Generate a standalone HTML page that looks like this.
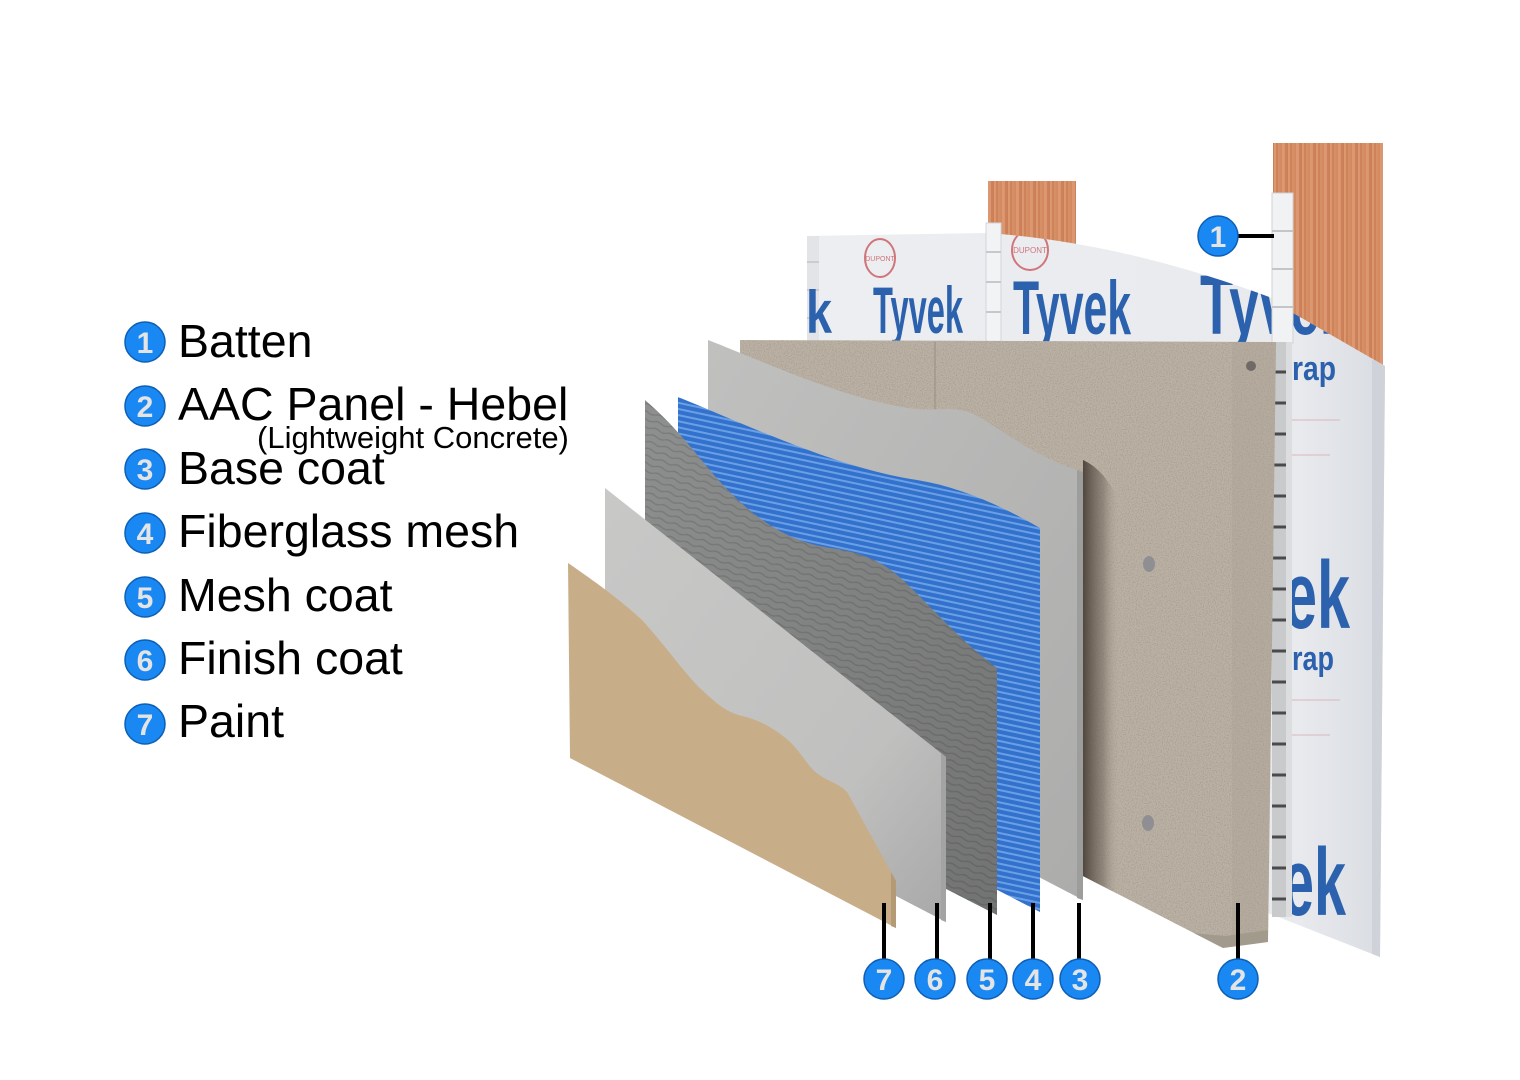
<!DOCTYPE html>
<html>
<head>
<meta charset="utf-8">
<style>
  html,body{margin:0;padding:0;background:#fff;}
  body{width:1520px;height:1080px;overflow:hidden;}
  svg{display:block;}
  .lg{font-family:"Liberation Sans",Arial,sans-serif;font-size:46.5px;fill:#000;}
  .num{font-family:"Liberation Sans",Arial,sans-serif;font-weight:bold;font-size:30px;fill:#e4e4e4;text-anchor:middle;}
  .ty{font-family:"Liberation Sans",Arial,sans-serif;font-weight:bold;fill:#2c62ad;}
</style>
</head>
<body>
<svg width="1520" height="1080" viewBox="0 0 1520 1080" xmlns="http://www.w3.org/2000/svg">
  <defs>
    <linearGradient id="wood" x1="0" y1="0" x2="1" y2="0">
      <stop offset="0" stop-color="#dc9a72"/>
      <stop offset="0.5" stop-color="#d48a60"/>
      <stop offset="1" stop-color="#cc7d56"/>
    </linearGradient>
    <pattern id="woodgrain" width="14" height="20" patternUnits="userSpaceOnUse">
      <rect width="14" height="20" fill="url(#wood)"/>
      <rect x="2" width="2" height="20" fill="#c27048" opacity="0.45"/>
      <rect x="8" width="3" height="20" fill="#e8ae8a" opacity="0.45"/>
    </pattern>
    <linearGradient id="tyvekG" x1="0" y1="0" x2="1" y2="0">
      <stop offset="0" stop-color="#eceef1"/>
      <stop offset="0.85" stop-color="#e8eaee"/>
      <stop offset="1" stop-color="#d9dce1"/>
    </linearGradient>
    <filter id="noise" x="0" y="0" width="100%" height="100%">
      <feTurbulence type="fractalNoise" baseFrequency="0.85" numOctaves="2" seed="4"/>
      <feColorMatrix type="matrix" values="0 0 0 0 0.32  0 0 0 0 0.29  0 0 0 0 0.25  1.9 0 0 0 -0.85"/>
    </filter>
    <clipPath id="concClip">
      <path d="M740,340 L1276,342 L1268,942 L1223,948 L740,700 Z"/>
    </clipPath>
    <clipPath id="tyClip">
      <path d="M807,236 L985,233 L1000,234 Q1130,245 1272,298 L1293,313 L1385,366 L1380,957 L1268,913 L807,700 Z"/>
    </clipPath>
    <linearGradient id="shadow" x1="0" y1="0" x2="1" y2="0">
      <stop offset="0" stop-color="#3e352d" stop-opacity="0.85"/>
      <stop offset="0.55" stop-color="#6b6056" stop-opacity="0.5"/>
      <stop offset="1" stop-color="#b5ab9f" stop-opacity="0"/>
    </linearGradient>
    <linearGradient id="baseG" x1="0" y1="0" x2="1" y2="1">
      <stop offset="0" stop-color="#c0c0bf"/>
      <stop offset="1" stop-color="#acacab"/>
    </linearGradient>
    <pattern id="meshP" width="12" height="6" patternUnits="userSpaceOnUse" patternTransform="rotate(12)">
      <rect width="12" height="6" fill="#3372cc"/>
      <rect y="0" width="12" height="2" fill="#6a9fe6"/>
    </pattern>
    <pattern id="mcP" width="16" height="7" patternUnits="userSpaceOnUse" patternTransform="rotate(18)">
      <rect width="16" height="7" fill="#8e8f8f"/>
      <path d="M0,3 Q4,1 8,3 T16,3" stroke="#7c7d7d" stroke-width="1.4" fill="none"/>
    </pattern>
    <linearGradient id="mcShade" x1="0" y1="0" x2="1" y2="1">
      <stop offset="0" stop-color="#000" stop-opacity="0"/>
      <stop offset="1" stop-color="#000" stop-opacity="0.2"/>
    </linearGradient>
    <linearGradient id="finG" x1="0" y1="0" x2="1" y2="1">
      <stop offset="0" stop-color="#c8c8c7"/>
      <stop offset="0.7" stop-color="#c0c0bf"/>
      <stop offset="1" stop-color="#a8a8a8"/>
    </linearGradient>
  </defs>

  <!-- Battens -->
  <rect x="988" y="181" width="88" height="90" fill="url(#woodgrain)"/>
  <rect x="1273" y="143" width="110" height="240" fill="url(#woodgrain)"/>

  <!-- Tyvek sheet -->
  <path d="M807,236 L985,233 L1000,234 Q1130,245 1272,298 L1293,313 L1385,366 L1380,957 L1268,913 L807,700 Z" fill="url(#tyvekG)"/>
  <g clip-path="url(#tyClip)">
    <rect x="1372" y="360" width="14" height="600" fill="#cfd2d8"/>
    <rect x="807" y="236" width="12" height="110" fill="#e2e4e8"/>
    <line x1="807" y1="262" x2="819" y2="262" stroke="#c9ccd1" stroke-width="2"/>
    <line x1="807" y1="290" x2="819" y2="290" stroke="#c9ccd1" stroke-width="2"/>
    <line x1="807" y1="318" x2="819" y2="318" stroke="#c9ccd1" stroke-width="2"/>
    <ellipse cx="880" cy="258" rx="15" ry="19" fill="none" stroke="#d0757a" stroke-width="2"/>
    <text x="880" y="261" font-family="Liberation Sans, sans-serif" font-size="7" fill="#d0757a" text-anchor="middle">DUPONT</text>
    <ellipse cx="1030" cy="250" rx="18" ry="20" fill="none" stroke="#d0757a" stroke-width="2"/>
    <text x="1030" y="253" font-family="Liberation Sans, sans-serif" font-size="8" fill="#d0757a" text-anchor="middle">DUPONT</text>
    <text class="ty" x="806" y="333" font-size="60" textLength="26" lengthAdjust="spacingAndGlyphs">k</text>
    <text class="ty" x="873" y="333" font-size="66" textLength="90" lengthAdjust="spacingAndGlyphs">Tyvek</text>
    <text class="ty" x="1013" y="334" font-size="76" textLength="118" lengthAdjust="spacingAndGlyphs">Tyvek</text>
    <text class="ty" x="1200" y="334" font-size="84" textLength="150" lengthAdjust="spacingAndGlyphs">Tyvek</text>
    <text class="ty" x="1292" y="380" font-size="34" textLength="44" lengthAdjust="spacingAndGlyphs">rap</text>
    <text class="ty" x="1284" y="628" font-size="96" textLength="66" lengthAdjust="spacingAndGlyphs">ek</text>
    <text class="ty" x="1292" y="670" font-size="34" textLength="42" lengthAdjust="spacingAndGlyphs">rap</text>
    <text class="ty" x="1282" y="915" font-size="96" textLength="64" lengthAdjust="spacingAndGlyphs">ek</text>
    <g stroke="#d8b8bd" stroke-width="1">
      <line x1="1292" y1="420" x2="1340" y2="420"/>
      <line x1="1292" y1="455" x2="1330" y2="455"/>
      <line x1="1292" y1="700" x2="1340" y2="700"/>
      <line x1="1292" y1="735" x2="1330" y2="735"/>
    </g>
  </g>

  <rect x="986" y="223" width="15" height="120" fill="#f2f3f5" stroke="#d4d6da" stroke-width="1"/>
  <g stroke="#c5c8cd" stroke-width="2">
    <line x1="986" y1="252" x2="1001" y2="252"/>
    <line x1="986" y1="282" x2="1001" y2="282"/>
    <line x1="986" y1="312" x2="1001" y2="312"/>
  </g>

  <!-- clip column -->
  <rect x="1272" y="193" width="21" height="150" fill="#f1f2f3" stroke="#d0d2d5" stroke-width="1"/>
  <g stroke="#c3c5c8" stroke-width="2">
    <line x1="1272" y1="231" x2="1293" y2="231"/>
    <line x1="1272" y1="269" x2="1293" y2="269"/>
    <line x1="1272" y1="307" x2="1293" y2="307"/>
  </g>
  <rect x="1272" y="342" width="20" height="575" fill="#c9cacc"/>
  <rect x="1286" y="342" width="6" height="575" fill="#dcdddf"/>
  <g stroke="#4a4a4c" stroke-width="3">
    <line x1="1272" y1="372" x2="1286" y2="372"/>
    <line x1="1272" y1="403" x2="1286" y2="403"/>
    <line x1="1272" y1="434" x2="1286" y2="434"/>
    <line x1="1272" y1="465" x2="1286" y2="465"/>
    <line x1="1272" y1="496" x2="1286" y2="496"/>
    <line x1="1272" y1="527" x2="1286" y2="527"/>
    <line x1="1272" y1="558" x2="1286" y2="558"/>
    <line x1="1272" y1="589" x2="1286" y2="589"/>
    <line x1="1272" y1="620" x2="1286" y2="620"/>
    <line x1="1272" y1="651" x2="1286" y2="651"/>
    <line x1="1272" y1="682" x2="1286" y2="682"/>
    <line x1="1272" y1="713" x2="1286" y2="713"/>
    <line x1="1272" y1="744" x2="1286" y2="744"/>
    <line x1="1272" y1="775" x2="1286" y2="775"/>
    <line x1="1272" y1="806" x2="1286" y2="806"/>
    <line x1="1272" y1="837" x2="1286" y2="837"/>
    <line x1="1272" y1="868" x2="1286" y2="868"/>
    <line x1="1272" y1="899" x2="1286" y2="899"/>
  </g>

  <!-- AAC concrete panel -->
  <path d="M740,340 L1276,342 L1268,942 L1223,948 L740,700 Z" fill="#bbb1a4"/>
  <g clip-path="url(#concClip)">
    <rect x="740" y="340" width="540" height="610" filter="url(#noise)"/>
    <line x1="935" y1="342" x2="935" y2="420" stroke="#a39888" stroke-width="1.5"/>
    <path d="M1083,460 Q1105,470 1118,500 L1120,900 L1083,900 Z" fill="url(#shadow)"/>
    <rect x="1232" y="342" width="44" height="610" fill="#a99f92" opacity="0.3"/>
    <path d="M1180,932 L1223,948 L1268,942 L1268,930 L1225,936 Z" fill="#a39a8e"/>
  </g>
  <circle cx="1251" cy="366" r="5" fill="#6f6a66"/>
  <ellipse cx="1149" cy="564" rx="6" ry="8" fill="#8f8f93"/>
  <ellipse cx="1148" cy="823" rx="6" ry="8" fill="#8f8f93"/>

  <!-- Base coat (3) -->
  <path d="M708,340 C760,360 850,402 917,409 C940,411 955,405 975,415 C1000,428 1030,455 1083,472 L1083,900 L708,705 Z" fill="url(#baseG)"/>
  <path d="M1077,470 L1083,472 L1083,900 L1077,898 Z" fill="#9d9d9c"/>

  <!-- Fiberglass mesh (4) -->
  <path d="M678,397 L700,406 C780,440 850,470 917,480 C960,487 1000,505 1040,528 L1040,912 L678,725 Z" fill="url(#meshP)"/>

  <!-- Mesh coat (5) -->
  <path d="M645,400 C680,430 700,460 722,484 C752,516 785,541 830,548 C860,552 882,560 905,582 C932,608 962,642 997,668 L997,915 L645,735 Z" fill="url(#mcP)"/>
  <path d="M645,400 C680,430 700,460 722,484 C752,516 785,541 830,548 C860,552 882,560 905,582 C932,608 962,642 997,668 L997,915 L645,735 Z" fill="url(#mcShade)"/>

  <!-- Finish coat (6) -->
  <path d="M605,488 L946,757 L946,922 L605,745 Z" fill="url(#finG)"/>
  <path d="M941,753 L946,757 L946,922 L941,920 Z" fill="#a3a3a3"/>

  <!-- Paint (7) -->
  <path d="M568,563 C600,585 620,600 642,620 C665,645 688,678 703,691 C716,703 726,712 742,716 C760,720 775,729 789,741 C801,752 808,767 818,774 C829,782 840,784 847,792 L896,881 L896,928 L570,758 Z" fill="#c8ad89"/>
  <path d="M891,872 L896,881 L896,928 L891,926 Z" fill="#b59a76"/>

  <!-- Leader lines -->
  <g stroke="#000" stroke-width="4">
    <line x1="884" y1="903" x2="884" y2="960"/>
    <line x1="937" y1="903" x2="937" y2="960"/>
    <line x1="990" y1="903" x2="990" y2="960"/>
    <line x1="1033" y1="903" x2="1033" y2="960"/>
    <line x1="1079" y1="903" x2="1079" y2="960"/>
    <line x1="1238" y1="903" x2="1238" y2="960"/>
    <line x1="1236" y1="236" x2="1274" y2="236"/>
  </g>

  <g stroke="#0d5fb5" stroke-width="1.5" fill="#1a88f2">
    <circle cx="884" cy="979" r="20"/>
    <circle cx="935" cy="979" r="20"/>
    <circle cx="987" cy="979" r="20"/>
    <circle cx="1033" cy="979" r="20"/>
    <circle cx="1080" cy="979" r="20"/>
    <circle cx="1238" cy="979" r="20"/>
    <circle cx="1218" cy="236" r="20"/>
  </g>
  <text class="num" x="884" y="990">7</text>
  <text class="num" x="935" y="990">6</text>
  <text class="num" x="987" y="990">5</text>
  <text class="num" x="1033" y="990">4</text>
  <text class="num" x="1080" y="990">3</text>
  <text class="num" x="1238" y="990">2</text>
  <text class="num" x="1218" y="247">1</text>

  <!-- Legend -->
  <g stroke="#0d5fb5" stroke-width="1.5" fill="#1a88f2">
    <circle cx="145" cy="342" r="20"/>
    <circle cx="145" cy="406" r="20"/>
    <circle cx="145" cy="469" r="20"/>
    <circle cx="145" cy="533" r="20"/>
    <circle cx="145" cy="597" r="20"/>
    <circle cx="145" cy="660" r="20"/>
    <circle cx="145" cy="724" r="20"/>
  </g>
  <text class="num" x="145" y="353">1</text>
  <text class="num" x="145" y="417">2</text>
  <text class="num" x="145" y="480">3</text>
  <text class="num" x="145" y="544">4</text>
  <text class="num" x="145" y="608">5</text>
  <text class="num" x="145" y="671">6</text>
  <text class="num" x="145" y="735">7</text>

  <text class="lg" x="178" y="357">Batten</text>
  <text class="lg" x="178" y="420">AAC Panel - Hebel</text>
  <text x="257" y="448" font-family="Liberation Sans, Arial, sans-serif" font-size="31" fill="#000">(Lightweight Concrete)</text>
  <text class="lg" x="178" y="484">Base coat</text>
  <text class="lg" x="178" y="547">Fiberglass mesh</text>
  <text class="lg" x="178" y="611">Mesh coat</text>
  <text class="lg" x="178" y="674">Finish coat</text>
  <text class="lg" x="178" y="737">Paint</text>
</svg>
</body>
</html>
